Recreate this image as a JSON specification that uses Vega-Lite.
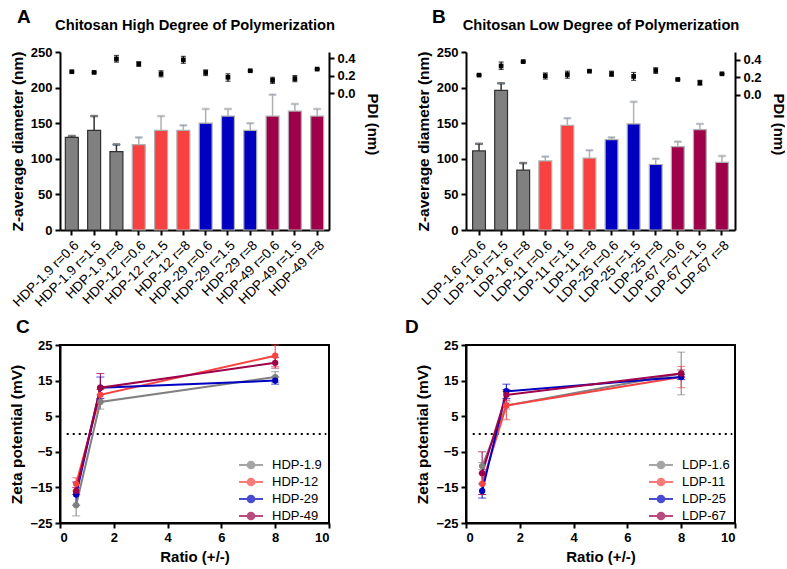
{
  "$schema": "https://vega.github.io/schema/vega-lite/v6.json",
  "autosize": {"type": "pad"},
  "padding": {"left": 8, "top": 8, "right": 0, "bottom": 0},
  "background": "white",
  "config": {
    "font": "Liberation Sans",
    "view": {"stroke": null},
    "axis": {
      "domainColor": "black", "domainWidth": 2, "tickColor": "black", "tickWidth": 2, "tickSize": 5,
      "labelColor": "black", "labelFontWeight": "bold", "labelFontSize": 13, "labelFont": "Liberation Sans",
      "titleColor": "black", "titleFontWeight": "bold", "titleFontSize": 15.5, "titleFont": "Liberation Sans",
      "grid": false, "labelPadding": 3, "titlePadding": 5, "labelOverlap": false
    },
    "title": {"font": "Liberation Sans", "fontSize": 19, "fontWeight": "bold", "color": "black", "anchor": "start", "frame": "group"},
    "legend": {"labelFont": "Liberation Sans", "labelFontSize": 13, "labelColor": "black"}
  },
  "datasets": {
    "A": [
      {"s": "HDP-1.9 r=0.6", "g": "c1", "z": 130, "ze": 132, "p": 0.244, "plo": 0.238, "phi": 0.25},
      {"s": "HDP-1.9 r=1.5", "g": "c1", "z": 140, "ze": 160, "p": 0.236, "plo": 0.23, "phi": 0.242},
      {"s": "HDP-1.9 r=8", "g": "c1", "z": 110, "ze": 120, "p": 0.39, "plo": 0.354, "phi": 0.43},
      {"s": "HDP-12 r=0.6", "g": "c2", "z": 120, "ze": 130, "p": 0.335, "plo": 0.305, "phi": 0.355},
      {"s": "HDP-12 r=1.5", "g": "c2", "z": 140, "ze": 160, "p": 0.22, "plo": 0.185, "phi": 0.255},
      {"s": "HDP-12 r=8", "g": "c2", "z": 140, "ze": 147, "p": 0.38, "plo": 0.34, "phi": 0.42},
      {"s": "HDP-29 r=0.6", "g": "c3", "z": 150, "ze": 170, "p": 0.235, "plo": 0.2, "phi": 0.265},
      {"s": "HDP-29 r=1.5", "g": "c3", "z": 160, "ze": 170, "p": 0.18, "plo": 0.135, "phi": 0.22},
      {"s": "HDP-29 r=8", "g": "c3", "z": 140, "ze": 150, "p": 0.255, "plo": 0.249, "phi": 0.261},
      {"s": "HDP-49 r=0.6", "g": "c4", "z": 160, "ze": 190, "p": 0.145, "plo": 0.11, "phi": 0.18},
      {"s": "HDP-49 r=1.5", "g": "c4", "z": 167, "ze": 177, "p": 0.165, "plo": 0.13, "phi": 0.2},
      {"s": "HDP-49 r=8", "g": "c4", "z": 160, "ze": 170, "p": 0.274, "plo": 0.268, "phi": 0.28}
    ],
    "B": [
      {"s": "LDP-1.6 r=0.6", "g": "c1", "z": 111, "ze": 121, "p": 0.225, "plo": 0.219, "phi": 0.231},
      {"s": "LDP-1.6 r=1.5", "g": "c1", "z": 196, "ze": 206, "p": 0.33, "plo": 0.29, "phi": 0.375},
      {"s": "LDP-1.6 r=8", "g": "c1", "z": 84, "ze": 94, "p": 0.38, "plo": 0.374, "phi": 0.386},
      {"s": "LDP-11 r=0.6", "g": "c2", "z": 97, "ze": 103, "p": 0.217, "plo": 0.18, "phi": 0.25},
      {"s": "LDP-11 r=1.5", "g": "c2", "z": 147, "ze": 157, "p": 0.232, "plo": 0.19, "phi": 0.27},
      {"s": "LDP-11 r=8", "g": "c2", "z": 101, "ze": 112, "p": 0.27, "plo": 0.264, "phi": 0.276},
      {"s": "LDP-25 r=0.6", "g": "c3", "z": 127, "ze": 130, "p": 0.24, "plo": 0.21, "phi": 0.27},
      {"s": "LDP-25 r=1.5", "g": "c3", "z": 149, "ze": 180, "p": 0.21, "plo": 0.165, "phi": 0.255},
      {"s": "LDP-25 r=8", "g": "c3", "z": 92, "ze": 100, "p": 0.278, "plo": 0.245, "phi": 0.31},
      {"s": "LDP-67 r=0.6", "g": "c4", "z": 117, "ze": 124, "p": 0.175, "plo": 0.169, "phi": 0.181},
      {"s": "LDP-67 r=1.5", "g": "c4", "z": 141, "ze": 149, "p": 0.137, "plo": 0.11, "phi": 0.165},
      {"s": "LDP-67 r=8", "g": "c4", "z": 95, "ze": 104, "p": 0.24, "plo": 0.234, "phi": 0.246}
    ],
    "C": [
      {"s": "HDP-1.9", "r": 0.6, "v": -20, "lo": -23, "hi": -17},
      {"s": "HDP-1.9", "r": 1.5, "v": 9, "lo": 7, "hi": 11},
      {"s": "HDP-1.9", "r": 8, "v": 16, "lo": 14.5, "hi": 17.5},
      {"s": "HDP-12", "r": 0.6, "v": -14, "lo": -16, "hi": -12.3},
      {"s": "HDP-12", "r": 1.5, "v": 11, "lo": 9.5, "hi": 12.5},
      {"s": "HDP-12", "r": 8, "v": 22, "lo": 19, "hi": 25},
      {"s": "HDP-29", "r": 0.6, "v": -17, "lo": -20, "hi": -13.5},
      {"s": "HDP-29", "r": 1.5, "v": 13, "lo": 10, "hi": 16},
      {"s": "HDP-29", "r": 8, "v": 15, "lo": 14, "hi": 16},
      {"s": "HDP-49", "r": 0.6, "v": -16, "lo": -17, "hi": -15},
      {"s": "HDP-49", "r": 1.5, "v": 13, "lo": 9, "hi": 17},
      {"s": "HDP-49", "r": 8, "v": 20, "lo": 18.5, "hi": 21.5}
    ],
    "D": [
      {"s": "LDP-1.6", "r": 0.6, "v": -9, "lo": -10, "hi": -8},
      {"s": "LDP-1.6", "r": 1.5, "v": 8, "lo": 7, "hi": 9},
      {"s": "LDP-1.6", "r": 8, "v": 17, "lo": 11, "hi": 23},
      {"s": "LDP-11", "r": 0.6, "v": -14, "lo": -17, "hi": -11},
      {"s": "LDP-11", "r": 1.5, "v": 8, "lo": 4, "hi": 12},
      {"s": "LDP-11", "r": 8, "v": 16, "lo": 13, "hi": 19},
      {"s": "LDP-25", "r": 0.6, "v": -16, "lo": -18, "hi": -14},
      {"s": "LDP-25", "r": 1.5, "v": 12, "lo": 10, "hi": 14},
      {"s": "LDP-25", "r": 8, "v": 16, "lo": 15.3, "hi": 16.7},
      {"s": "LDP-67", "r": 0.6, "v": -11, "lo": -17, "hi": -5},
      {"s": "LDP-67", "r": 1.5, "v": 11, "lo": 9.5, "hi": 12.5},
      {"s": "LDP-67", "r": 8, "v": 17, "lo": 16, "hi": 18}
    ],
    "zero": [{"x": 0.25, "x2": 9.9, "y": 0}]
  },
  "columns": 2,
  "bounds": "flush",
  "spacing": {"row": 115, "column": 137},
  "resolve": {"scale": {"color": "independent"}, "legend": {"color": "independent"}},
  "concat": [
    {
      "width": 269, "height": 178,
      "data": {"name": "A"},
      "title": {"text": "A", "dx": -43, "offset": 0, "baseline": "alphabetic", "dy": 25},
      "layer": [
        {
          "encoding": {
            "x": {"field": "s", "type": "nominal", "sort": null,
              "scale": {"paddingInner": 0.42, "paddingOuter": 0.24},
              "axis": {"title": null, "labelAngle": -45, "labelFontWeight": "normal", "labelFontSize": 13.5}}
          },
          "layer": [
            {"mark": {"type": "bar", "strokeWidth": 1.2},
             "encoding": {
               "y": {"field": "z", "type": "quantitative", "scale": {"domain": [0, 250], "nice": false},
                 "axis": {"values": [0, 50, 100, 150, 200, 250], "tickCount": 12, "title": "Z-average diameter (nm)"}},
               "fill": {"field": "g", "type": "nominal", "legend": null,
                 "scale": {"domain": ["c1", "c2", "c3", "c4"], "range": ["#808080", "#F84242", "#0000C0", "#9E004A"]}},
               "stroke": {"field": "g", "type": "nominal", "legend": null,
                 "scale": {"domain": ["c1", "c2", "c3", "c4"], "range": ["#303030", "#B0B0B0", "#B0B0B0", "#B0B0B0"]}}
             }},
            {"mark": {"type": "rule", "strokeWidth": 1.5},
             "encoding": {"y": {"field": "z", "type": "quantitative"}, "y2": {"field": "ze"},
               "stroke": {"field": "g", "type": "nominal", "legend": null}}},
            {"mark": {"type": "tick", "orient": "horizontal", "size": 7, "thickness": 1.5},
             "encoding": {"y": {"field": "ze", "type": "quantitative"},
               "stroke": {"field": "g", "type": "nominal", "legend": null}}}
          ]
        },
        {
          "encoding": {
            "x": {"field": "s", "type": "nominal", "sort": null,
              "axis": {"orient": "top", "domain": false, "ticks": false, "labels": false,
                "title": "Chitosan High Degree of Polymerization", "titleFontSize": 14.7, "titlePadding": 20}}
          },
          "layer": [
            {"mark": {"type": "rule", "color": "black", "strokeWidth": 1.2},
             "encoding": {"y": {"field": "plo", "type": "quantitative", "scale": {"domain": [-1.57, 0.47], "nice": false},
                 "axis": {"orient": "right", "values": [0, 0.2, 0.4], "tickCount": 12, "format": ".1f", "title": "PDI (nm)",
                   "titleAngle": 90, "titleX": 38, "titleY": 41, "titleAlign": "left", "titleBaseline": "alphabetic", "titleFontSize": 15}},
               "y2": {"field": "phi"}}},
            {"mark": {"type": "tick", "orient": "horizontal", "color": "black", "size": 5, "thickness": 1.2},
             "encoding": {"y": {"field": "plo", "type": "quantitative"}}},
            {"mark": {"type": "tick", "orient": "horizontal", "color": "black", "size": 5, "thickness": 1.2},
             "encoding": {"y": {"field": "phi", "type": "quantitative"}}},
            {"mark": {"type": "square", "color": "black", "filled": true, "opacity": 1, "size": 22},
             "encoding": {"y": {"field": "p", "type": "quantitative"}}}
          ]
        }
      ],
      "resolve": {"scale": {"y": "independent", "stroke": "independent"}, "axis": {"x": "independent"}}
    },
    {
      "width": 269, "height": 178,
      "data": {"name": "B"},
      "title": {"text": "B", "dx": -34, "offset": 0, "baseline": "alphabetic", "dy": 25},
      "layer": [
        {
          "encoding": {
            "x": {"field": "s", "type": "nominal", "sort": null,
              "scale": {"paddingInner": 0.42, "paddingOuter": 0.3},
              "axis": {"title": null, "labelAngle": -45, "labelFontWeight": "normal", "labelFontSize": 13.5}}
          },
          "layer": [
            {"mark": {"type": "bar", "strokeWidth": 1.2},
             "encoding": {
               "y": {"field": "z", "type": "quantitative", "scale": {"domain": [0, 250], "nice": false},
                 "axis": {"values": [0, 50, 100, 150, 200, 250], "tickCount": 12, "title": "Z-average diameter (nm)"}},
               "fill": {"field": "g", "type": "nominal", "legend": null,
                 "scale": {"domain": ["c1", "c2", "c3", "c4"], "range": ["#808080", "#F84242", "#0000C0", "#9E004A"]}},
               "stroke": {"field": "g", "type": "nominal", "legend": null,
                 "scale": {"domain": ["c1", "c2", "c3", "c4"], "range": ["#303030", "#B0B0B0", "#B0B0B0", "#B0B0B0"]}}
             }},
            {"mark": {"type": "rule", "strokeWidth": 1.5},
             "encoding": {"y": {"field": "z", "type": "quantitative"}, "y2": {"field": "ze"},
               "stroke": {"field": "g", "type": "nominal", "legend": null}}},
            {"mark": {"type": "tick", "orient": "horizontal", "size": 7, "thickness": 1.5},
             "encoding": {"y": {"field": "ze", "type": "quantitative"},
               "stroke": {"field": "g", "type": "nominal", "legend": null}}}
          ]
        },
        {
          "encoding": {
            "x": {"field": "s", "type": "nominal", "sort": null,
              "axis": {"orient": "top", "domain": false, "ticks": false, "labels": false,
                "title": "Chitosan Low Degree of Polymerization", "titleFontSize": 14.7, "titlePadding": 20}}
          },
          "layer": [
            {"mark": {"type": "rule", "color": "black", "strokeWidth": 1.2},
             "encoding": {"y": {"field": "plo", "type": "quantitative", "scale": {"domain": [-1.55, 0.49], "nice": false},
                 "axis": {"orient": "right", "values": [0, 0.2, 0.4], "tickCount": 12, "format": ".1f", "title": "PDI (nm)",
                   "titleAngle": 90, "titleX": 38, "titleY": 41, "titleAlign": "left", "titleBaseline": "alphabetic", "titleFontSize": 15}},
               "y2": {"field": "phi"}}},
            {"mark": {"type": "tick", "orient": "horizontal", "color": "black", "size": 5, "thickness": 1.2},
             "encoding": {"y": {"field": "plo", "type": "quantitative"}}},
            {"mark": {"type": "tick", "orient": "horizontal", "color": "black", "size": 5, "thickness": 1.2},
             "encoding": {"y": {"field": "phi", "type": "quantitative"}}},
            {"mark": {"type": "square", "color": "black", "filled": true, "opacity": 1, "size": 22},
             "encoding": {"y": {"field": "p", "type": "quantitative"}}}
          ]
        }
      ],
      "resolve": {"scale": {"y": "independent", "stroke": "independent"}, "axis": {"x": "independent"}}
    },
    {
      "width": 269, "height": 178,
      "title": {"text": "C", "dx": -44, "offset": 0, "baseline": "alphabetic", "dy": 13},
      "view": {"stroke": "black", "strokeWidth": 2},
      "layer": [
        {"data": {"name": "zero"},
         "mark": {"type": "rule", "color": "black", "strokeWidth": 2, "strokeDash": [2, 4]},
         "encoding": {
           "x": {"field": "x", "type": "quantitative", "scale": {"domain": [0, 10], "nice": false},
             "axis": {"values": [0, 2, 4, 6, 8, 10], "tickCount": 12, "title": "Ratio (+/-)", "titleFontSize": 15}},
           "x2": {"field": "x2"},
           "y": {"field": "y", "type": "quantitative", "scale": {"domain": [-25, 25], "nice": false},
             "title": "Zeta potential (mV)", "axis": {"values": [-25, -15, -5, 5, 15, 25], "tickCount": 12}}
         }},
        {"data": {"name": "C"},
         "encoding": {
           "x": {"field": "r", "type": "quantitative", "title": "Ratio (+/-)"},
           "color": {"field": "s", "type": "nominal",
             "scale": {"domain": ["HDP-1.9", "HDP-12", "HDP-29", "HDP-49"], "range": ["#808080", "#F84242", "#0000C0", "#9E004A"]},
             "legend": {"title": null, "orient": "none", "legendX": 182, "legendY": 111,
               "symbolType": "M-1.5,0H1.5M-0.42,0A0.42,0.42 0 1,1 0.42,0A0.42,0.42 0 1,1 -0.42,0Z",
               "symbolSize": 256, "symbolStrokeWidth": 2, "labelOffset": 12, "rowPadding": 0}}
         },
         "layer": [
           {"mark": {"type": "rule", "strokeWidth": 1},
            "encoding": {"y": {"field": "lo", "type": "quantitative", "title": "Zeta potential (mV)"}, "y2": {"field": "hi"}}},
           {"mark": {"type": "tick", "orient": "horizontal", "size": 8, "thickness": 1},
            "encoding": {"y": {"field": "lo", "type": "quantitative", "title": "Zeta potential (mV)"}}},
           {"mark": {"type": "tick", "orient": "horizontal", "size": 8, "thickness": 1},
            "encoding": {"y": {"field": "hi", "type": "quantitative", "title": "Zeta potential (mV)"}}},
           {"mark": {"type": "line", "strokeWidth": 2},
            "encoding": {"y": {"field": "v", "type": "quantitative", "title": "Zeta potential (mV)"}}},
           {"mark": {"type": "point", "filled": true, "opacity": 1, "size": 40},
            "encoding": {"y": {"field": "v", "type": "quantitative", "title": "Zeta potential (mV)"}}}
         ]}
      ]
    },
    {
      "width": 269, "height": 178,
      "title": {"text": "D", "dx": -61, "offset": 0, "baseline": "alphabetic", "dy": 13},
      "view": {"stroke": "black", "strokeWidth": 2},
      "layer": [
        {"data": {"name": "zero"},
         "mark": {"type": "rule", "color": "black", "strokeWidth": 2, "strokeDash": [2, 4]},
         "encoding": {
           "x": {"field": "x", "type": "quantitative", "scale": {"domain": [0, 10], "nice": false},
             "axis": {"values": [0, 2, 4, 6, 8, 10], "tickCount": 12, "title": "Ratio (+/-)", "titleFontSize": 15}},
           "x2": {"field": "x2"},
           "y": {"field": "y", "type": "quantitative", "scale": {"domain": [-25, 25], "nice": false},
             "title": "Zeta potential (mV)", "axis": {"values": [-25, -15, -5, 5, 15, 25], "tickCount": 12}}
         }},
        {"data": {"name": "D"},
         "encoding": {
           "x": {"field": "r", "type": "quantitative", "title": "Ratio (+/-)"},
           "color": {"field": "s", "type": "nominal",
             "scale": {"domain": ["LDP-1.6", "LDP-11", "LDP-25", "LDP-67"], "range": ["#808080", "#F84242", "#0000C0", "#9E004A"]},
             "legend": {"title": null, "orient": "none", "legendX": 186, "legendY": 111,
               "symbolType": "M-1.5,0H1.5M-0.42,0A0.42,0.42 0 1,1 0.42,0A0.42,0.42 0 1,1 -0.42,0Z",
               "symbolSize": 256, "symbolStrokeWidth": 2, "labelOffset": 12, "rowPadding": 0}}
         },
         "layer": [
           {"mark": {"type": "rule", "strokeWidth": 1},
            "encoding": {"y": {"field": "lo", "type": "quantitative", "title": "Zeta potential (mV)"}, "y2": {"field": "hi"}}},
           {"mark": {"type": "tick", "orient": "horizontal", "size": 8, "thickness": 1},
            "encoding": {"y": {"field": "lo", "type": "quantitative", "title": "Zeta potential (mV)"}}},
           {"mark": {"type": "tick", "orient": "horizontal", "size": 8, "thickness": 1},
            "encoding": {"y": {"field": "hi", "type": "quantitative", "title": "Zeta potential (mV)"}}},
           {"mark": {"type": "line", "strokeWidth": 2},
            "encoding": {"y": {"field": "v", "type": "quantitative", "title": "Zeta potential (mV)"}}},
           {"mark": {"type": "point", "filled": true, "opacity": 1, "size": 40},
            "encoding": {"y": {"field": "v", "type": "quantitative", "title": "Zeta potential (mV)"}}}
         ]}
      ]
    }
  ]
}
